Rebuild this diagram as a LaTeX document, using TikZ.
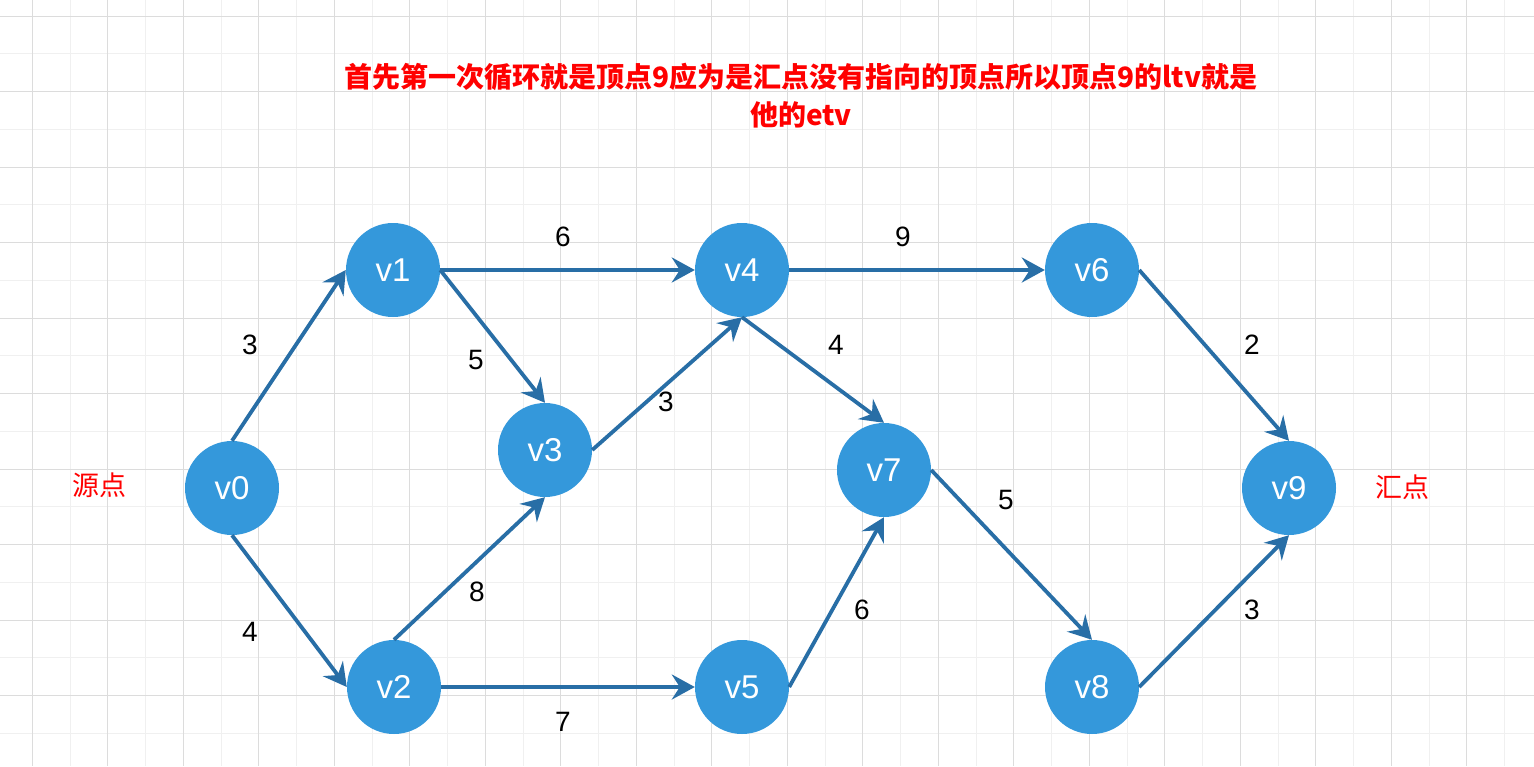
\documentclass[tikz,border=0pt]{standalone}
\usepackage{fontspec}
\setmainfont{Liberation Sans}
\newfontfamily\cjk{Noto Sans CJK SC}
\usetikzlibrary{arrows.meta}
\definecolor{nodefill}{RGB}{52,152,219}
\definecolor{edgecol}{RGB}{40,110,166}
\definecolor{gridmajor}{RGB}{220,220,220}
\definecolor{gridminor}{RGB}{240,240,240}
\definecolor{redtxt}{RGB}{255,0,0}
\tikzset{
  vert/.style={circle,fill=nodefill,draw=none,minimum size=94pt,inner sep=0pt,
    text=white,font=\fontsize{33}{36}\selectfont},
  edge/.style={draw=edgecol,line width=3.8pt,
    -{Stealth[length=23pt,width=25pt,inset=8pt]}},
  wlabel/.style={font=\fontsize{28}{30}\selectfont,text=black,inner sep=0pt},
  redlabel/.style={font=\cjk\fontsize{27}{30}\selectfont,text=redtxt,inner sep=0pt}
}
\begin{document}
\begin{tikzpicture}[x=1pt,y=-1pt]
\useasboundingbox (0,0) rectangle (1534,766);
\fill[white] (0,0) rectangle (1534,766);
% grid
\foreach \k in {1,3,...,39} {
  \pgfmathsetmacro\xx{32.3+37.75*\k}
  \draw[gridminor,line width=1pt] (\xx,0) -- (\xx,766);
}
\foreach \k in {1,3,...,19} {
  \pgfmathsetmacro\yy{16+37.75*\k}
  \draw[gridminor,line width=1pt] (0,\yy) -- (1534,\yy);
}
\foreach \k in {0,2,...,38} {
  \pgfmathsetmacro\xx{32.3+37.75*\k}
  \draw[gridmajor,line width=1pt] (\xx,0) -- (\xx,766);
}
\foreach \k in {0,2,...,20} {
  \pgfmathsetmacro\yy{16+37.75*\k}
  \draw[gridmajor,line width=1pt] (0,\yy) -- (1534,\yy);
}
% title
\node[font=\cjk\bfseries\fontsize{28}{38}\selectfont,text=redtxt,align=center,inner sep=0pt] (title) at (801,96)
  {首先第一次循环就是顶点9应为是汇点没有指向的顶点所以顶点9的ltv就是\\他的etv};
\node[redlabel] (src) at (99,485) {源点};
\node[redlabel] (sink) at (1402,487) {汇点};
% vertices
\node[vert] (v0) at (232,488) {v0};
\node[vert] (v1) at (393,270) {v1};
\node[vert] (v2) at (394,687) {v2};
\node[vert] (v3) at (545,450) {v3};
\node[vert] (v4) at (742,270) {v4};
\node[vert] (v5) at (742,687) {v5};
\node[vert] (v6) at (1092,270) {v6};
\node[vert] (v7) at (884,470) {v7};
\node[vert] (v8) at (1092,687) {v8};
\node[vert] (v9) at (1289,488) {v9};
% edges
\draw[edge] (v0.north) -- (v1.west);
\draw[edge] (v0.south) -- (v2.west);
\draw[edge] (v1.east) -- (v4.west);
\draw[edge] (v1.east) -- (v3.north);
\draw[edge] (v2.north) -- (v3.south);
\draw[edge] (v2.east) -- (v5.west);
\draw[edge] (v3.east) -- (v4.south);
\draw[edge] (v4.east) -- (v6.west);
\draw[edge] (v4.south) -- (v7.north);
\draw[edge] (v5.east) -- (v7.south);
\draw[edge] (v6.east) -- (v9.north);
\draw[edge] (v7.east) -- (v8.north);
\draw[edge] (v8.east) -- (v9.south);
% weights
\node[wlabel] (w01) at (250,345) {3};
\node[wlabel] (w02) at (250,632) {4};
\node[wlabel] (w14) at (563,237) {6};
\node[wlabel] (w13) at (476,360) {5};
\node[wlabel] (w23) at (477,592) {8};
\node[wlabel] (w25) at (563,722) {7};
\node[wlabel] (w34) at (666,402) {3};
\node[wlabel] (w46) at (903,237) {9};
\node[wlabel] (w47) at (836,345) {4};
\node[wlabel] (w57) at (862,610) {6};
\node[wlabel] (w69) at (1252,345) {2};
\node[wlabel] (w78) at (1006,500) {5};
\node[wlabel] (w89) at (1252,610) {3};
\end{tikzpicture}
\end{document}
